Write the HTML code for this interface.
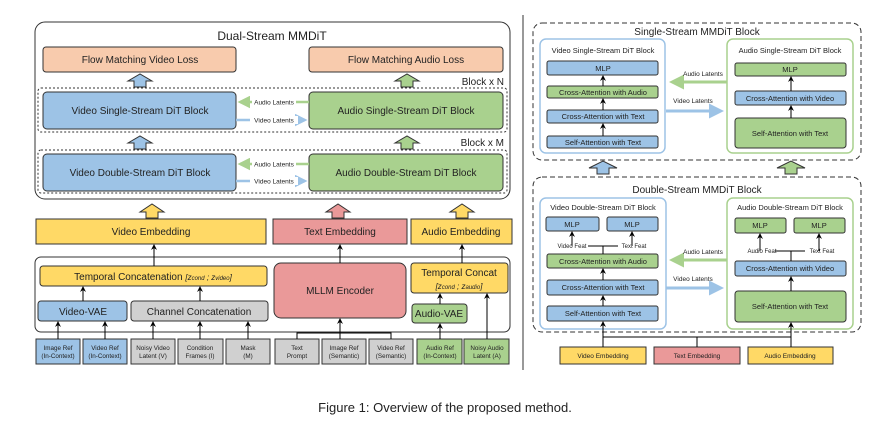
<!DOCTYPE html>
<html><head><meta charset="utf-8"><style>
body{margin:0;background:#fff}
svg{display:block}
text{font-family:"Liberation Sans",sans-serif;fill:#222}
</style></head><body>
<svg width="887" height="428" viewBox="0 0 887 428" xmlns="http://www.w3.org/2000/svg">
<defs>
<marker id="ab" markerWidth="6" markerHeight="6" refX="5" refY="3" orient="auto"><path d="M0,0 L6,3 L0,6 L2,3z" fill="#000"/></marker>
<marker id="ag" markerWidth="5" markerHeight="5" refX="4" refY="2.5" orient="auto"><path d="M0,0 L5,2.5 L0,5z" fill="#a9d18e"/></marker>
<marker id="abl" markerWidth="5" markerHeight="5" refX="4" refY="2.5" orient="auto"><path d="M0,0 L5,2.5 L0,5z" fill="#9dc3e6"/></marker>
</defs>
<g stroke="#333" stroke-width="1">
<!-- LEFT -->
<rect x="35" y="22" width="475" height="177" rx="10" fill="#fff"/>
<rect x="43" y="47" width="193" height="25" rx="3" fill="#f8cbad"/>
<rect x="309" y="47" width="194" height="25" rx="3" fill="#f8cbad"/>
<rect x="38" y="88" width="469" height="44" rx="3" fill="none" stroke-dasharray="2,2"/>
<rect x="38" y="150" width="469" height="43" rx="3" fill="none" stroke-dasharray="2,2"/>
<rect x="43" y="92" width="193" height="37" rx="4" fill="#9dc3e6"/>
<rect x="309" y="92" width="194" height="37" rx="4" fill="#a9d18e"/>
<rect x="43" y="154" width="193" height="37" rx="4" fill="#9dc3e6"/>
<rect x="309" y="154" width="194" height="37" rx="4" fill="#a9d18e"/>
<path d="M134,87 v-6 h-6 l12,-7 l12,7 h-6 v6z" fill="#9dc3e6"/>
<path d="M401,87 v-6 h-6 l12,-7 l12,7 h-6 v6z" fill="#a9d18e"/>
<path d="M134,149 v-6 h-6 l12,-7 l12,7 h-6 v6z" fill="#9dc3e6"/>
<path d="M401,149 v-6 h-6 l12,-7 l12,7 h-6 v6z" fill="#a9d18e"/>
<path d="M146,218 v-6 h-6 l12,-8 l12,8 h-6 v6z" fill="#ffd966"/>
<path d="M332,218 v-6 h-6 l12,-8 l12,8 h-6 v6z" fill="#ea9999"/>
<path d="M456,218 v-6 h-6 l12,-8 l12,8 h-6 v6z" fill="#ffd966"/>
<rect x="36" y="219" width="230" height="25" fill="#ffd966"/>
<rect x="273" y="219" width="134" height="25" fill="#ea9999"/>
<rect x="411" y="219" width="101" height="25" fill="#ffd966"/>
<rect x="35" y="257" width="475" height="75" rx="6" fill="none"/>
<rect x="40" y="266" width="227" height="20" rx="3" fill="#ffd966"/>
<rect x="38" y="301" width="89" height="20" rx="3" fill="#9dc3e6"/>
<rect x="131" y="301" width="137" height="20" rx="3" fill="#d0d0d0"/>
<rect x="274" y="263" width="132" height="55" rx="7" fill="#ea9999"/>
<rect x="411" y="263" width="97" height="30" rx="3" fill="#ffd966"/>
<rect x="412" y="304" width="55" height="19" rx="3" fill="#a9d18e"/>
<rect x="36" y="339" width="44" height="25" fill="#9dc3e6"/>
<rect x="83" y="339" width="44" height="25" fill="#9dc3e6"/>
<rect x="131" y="339" width="44" height="25" fill="#d0d0d0"/>
<rect x="178" y="339" width="45" height="25" fill="#d0d0d0"/>
<rect x="226" y="339" width="44" height="25" fill="#d0d0d0"/>
<rect x="275" y="339" width="44" height="25" fill="#d0d0d0"/>
<rect x="322" y="339" width="44" height="25" fill="#d0d0d0"/>
<rect x="369" y="339" width="44" height="25" fill="#d0d0d0"/>
<rect x="417" y="339" width="45" height="25" fill="#a9d18e"/>
<rect x="464" y="339" width="45" height="25" fill="#a9d18e"/>
</g>
<g stroke="#000" stroke-width="1" fill="none" marker-end="url(#ab)">
<path d="M58,339 V322"/><path d="M105,339 V322"/><path d="M153,339 V322"/><path d="M200,339 V322"/><path d="M248,339 V322"/>
<path d="M83,301 V287"/><path d="M200,301 V287"/><path d="M154,266 V245"/>
<path d="M340,339 V319"/><path d="M340,263 V245"/>
<path d="M440,339 V324"/><path d="M440,304 V294"/><path d="M487,339 V294"/><path d="M462,263 V245"/>
</g>
<path d="M297,339 V333 H391 V339" stroke="#000" fill="none"/>
<g stroke-width="2.5" fill="none">
<path d="M309,102 H240" stroke="#a9d18e" marker-end="url(#ag)"/>
<path d="M236,120 H305" stroke="#9dc3e6" marker-end="url(#abl)"/>
<path d="M309,164 H240" stroke="#a9d18e" marker-end="url(#ag)"/>
<path d="M236,181 H305" stroke="#9dc3e6" marker-end="url(#abl)"/>
</g>
<g font-size="6.5" text-anchor="middle">
<rect x="252" y="98" width="44" height="8" fill="#fff"/><text x="274" y="104.5">Audio Latents</text>
<rect x="250" y="116" width="48" height="8" fill="#fff"/><text x="274" y="122.5">Video Latents</text>
<rect x="252" y="160" width="44" height="8" fill="#fff"/><text x="274" y="166.5">Audio Latents</text>
<rect x="250" y="177" width="48" height="8" fill="#fff"/><text x="274" y="183.5">Video Latents</text>
</g>
<g text-anchor="middle" font-size="10">
<text x="272" y="40" font-size="12">Dual-Stream MMDiT</text>
<text x="140" y="63">Flow Matching Video Loss</text>
<text x="406" y="63">Flow Matching Audio Loss</text>
<text x="140" y="114">Video Single-Stream DiT Block</text>
<text x="406" y="114">Audio Single-Stream DiT Block</text>
<text x="140" y="176">Video Double-Stream DiT Block</text>
<text x="406" y="176">Audio Double-Stream DiT Block</text>
<text x="151" y="235">Video Embedding</text>
<text x="340" y="235">Text Embedding</text>
<text x="461" y="235">Audio Embedding</text>
<text x="153" y="280">Temporal Concatenation <tspan font-size="8" font-style="italic">[z<tspan font-size="6">cond</tspan> ; z<tspan font-size="6">video</tspan>]</tspan></text>
<text x="83" y="315">Video-VAE</text>
<text x="199" y="315">Channel Concatenation</text>
<text x="340" y="294">MLLM Encoder</text>
<text x="459" y="276">Temporal Concat</text>
<text x="459" y="289" font-size="8" font-style="italic">[z<tspan font-size="6">cond</tspan> ; z<tspan font-size="6">audio</tspan>]</text>
<text x="439" y="317">Audio-VAE</text>
</g>
<g text-anchor="end" font-size="10"><text x="504" y="85">Block x N</text><text x="504" y="146">Block x M</text></g>
<g text-anchor="middle" font-size="6.3" fill="#333">
<text x="58" y="350">Image Ref</text><text x="58" y="358">(In-Context)</text>
<text x="105" y="350">Video Ref</text><text x="105" y="358">(In-Context)</text>
<text x="153" y="350">Noisy Video</text><text x="153" y="358">Latent (V)</text>
<text x="200" y="350">Condition</text><text x="200" y="358">Frames (I)</text>
<text x="248" y="350">Mask</text><text x="248" y="358">(M)</text>
<text x="297" y="350">Text</text><text x="297" y="358">Prompt</text>
<text x="344" y="350">Image Ref</text><text x="344" y="358">(Semantic)</text>
<text x="391" y="350">Video Ref</text><text x="391" y="358">(Semantic)</text>
<text x="440" y="350">Audio Ref</text><text x="440" y="358">(In-Context)</text>
<text x="487" y="350">Noisy Audio</text><text x="487" y="358">Latent (A)</text>
</g>
<line x1="523" y1="15" x2="523" y2="370" stroke="#333"/>
<!-- RIGHT TOP -->
<g stroke="#333" stroke-width="1">
<rect x="533" y="23" width="328" height="137" rx="9" fill="none" stroke-dasharray="5,3"/>
<rect x="540" y="39" width="125" height="114" rx="6" fill="#fff" stroke="#9dc3e6" stroke-width="1.5"/>
<rect x="727" y="39" width="126" height="114" rx="6" fill="#fff" stroke="#a9d18e" stroke-width="1.5"/>
<rect x="547" y="61" width="111" height="14" rx="2" fill="#9dc3e6"/>
<rect x="547" y="86" width="111" height="12" rx="2" fill="#a9d18e"/>
<rect x="547" y="110" width="111" height="13" rx="2" fill="#9dc3e6"/>
<rect x="547" y="136" width="111" height="12" rx="2" fill="#9dc3e6"/>
<rect x="735" y="63" width="111" height="13" rx="2" fill="#a9d18e"/>
<rect x="735" y="91" width="111" height="14" rx="2" fill="#9dc3e6"/>
<rect x="735" y="118" width="111" height="30" rx="3" fill="#a9d18e"/>
<path d="M597,174 v-6 h-8 l14,-7 l14,7 h-8 v6z" fill="#9dc3e6"/>
<path d="M785,174 v-6 h-8 l14,-7 l14,7 h-8 v6z" fill="#a9d18e"/>
<!-- RIGHT BOTTOM -->
<rect x="533" y="177" width="328" height="155" rx="9" fill="none" stroke-dasharray="5,3"/>
<rect x="540" y="198" width="126" height="131" rx="6" fill="#fff" stroke="#9dc3e6" stroke-width="1.5"/>
<rect x="727" y="198" width="126" height="131" rx="6" fill="#fff" stroke="#a9d18e" stroke-width="1.5"/>
<rect x="546" y="217" width="53" height="14" rx="2" fill="#9dc3e6"/>
<rect x="607" y="217" width="51" height="14" rx="2" fill="#9dc3e6"/>
<rect x="547" y="254" width="111" height="14" rx="2" fill="#a9d18e"/>
<rect x="547" y="280" width="111" height="15" rx="2" fill="#9dc3e6"/>
<rect x="547" y="306" width="111" height="15" rx="2" fill="#9dc3e6"/>
<rect x="735" y="218" width="51" height="15" rx="2" fill="#a9d18e"/>
<rect x="794" y="218" width="51" height="15" rx="2" fill="#a9d18e"/>
<rect x="735" y="261" width="111" height="15" rx="2" fill="#9dc3e6"/>
<rect x="735" y="291" width="111" height="31" rx="3" fill="#a9d18e"/>
<rect x="560" y="347" width="86" height="17" fill="#ffd966"/>
<rect x="654" y="347" width="86" height="17" fill="#ea9999"/>
<rect x="748" y="347" width="85" height="17" fill="#ffd966"/>
</g>
<g stroke="#000" stroke-width="1" fill="none" marker-end="url(#ab)">
<path d="M603,86 V76"/><path d="M603,110 V99"/><path d="M603,136 V124"/>
<path d="M791,91 V77"/><path d="M791,118 V106"/>
<path d="M603,280 V269"/><path d="M603,306 V296"/>
<path d="M791,291 V277"/>
<path d="M572,246 V232"/><path d="M632,246 V232"/>
<path d="M760,251 V234"/><path d="M819,251 V234"/>
<path d="M603,337 V322"/><path d="M791,337 V323"/>
</g>
<g stroke="#000" fill="none">
<path d="M603,254 V246 M588,246 H618"/>
<path d="M791,261 V251 M775,251 H805"/>
<path d="M603,347 V337 H791 V347 M697,347 V337"/>
</g>
<g stroke-width="3" fill="none">
<path d="M727,82 H672" stroke="#a9d18e" marker-end="url(#ag)"/>
<path d="M666,111 H721" stroke="#9dc3e6" marker-end="url(#abl)"/>
<path d="M727,260 H672" stroke="#a9d18e" marker-end="url(#ag)"/>
<path d="M666,288 H721" stroke="#9dc3e6" marker-end="url(#abl)"/>
</g>
<g text-anchor="middle" font-size="6.5">
<text x="703" y="76">Audio Latents</text><text x="693" y="103">Video Latents</text>
<text x="703" y="254">Audio Latents</text><text x="693" y="281">Video Latents</text>
<text x="572" y="248" font-size="6">Video Feat</text><text x="634" y="248" font-size="6">Text Feat</text>
<text x="762" y="253" font-size="6">Audio Feat</text><text x="822" y="253" font-size="6">Text Feat</text>
</g>
<g text-anchor="middle" font-size="7.5">
<text x="697" y="35" font-size="10">Single-Stream MMDiT Block</text>
<text x="603" y="53">Video Single-Stream DiT Block</text>
<text x="790" y="53">Audio Single-Stream DiT Block</text>
<text x="603" y="71">MLP</text>
<text x="603" y="95">Cross-Attention with Audio</text>
<text x="603" y="119">Cross-Attention with Text</text>
<text x="603" y="145">Self-Attention with Text</text>
<text x="790" y="72">MLP</text>
<text x="790" y="101">Cross-Attention with Video</text>
<text x="790" y="136">Self-Attention with Text</text>
<text x="697" y="193" font-size="10">Double-Stream MMDiT Block</text>
<text x="603" y="210">Video Double-Stream DiT Block</text>
<text x="790" y="210">Audio Double-Stream DiT Block</text>
<text x="572" y="227">MLP</text><text x="632" y="227">MLP</text>
<text x="760" y="228">MLP</text><text x="819" y="228">MLP</text>
<text x="603" y="264">Cross-Attention with Audio</text>
<text x="603" y="290">Cross-Attention with Text</text>
<text x="603" y="316">Self-Attention with Text</text>
<text x="790" y="271">Cross-Attention with Video</text>
<text x="790" y="309">Self-Attention with Text</text>
<text x="603" y="358" font-size="6.5">Video Embedding</text>
<text x="697" y="358" font-size="6.5">Text Embedding</text>
<text x="790" y="358" font-size="6.5">Audio Embedding</text>
</g>
<text x="445" y="412" text-anchor="middle" font-size="13" fill="#111">Figure 1: Overview of the proposed method.</text>
</svg>
</body></html>
